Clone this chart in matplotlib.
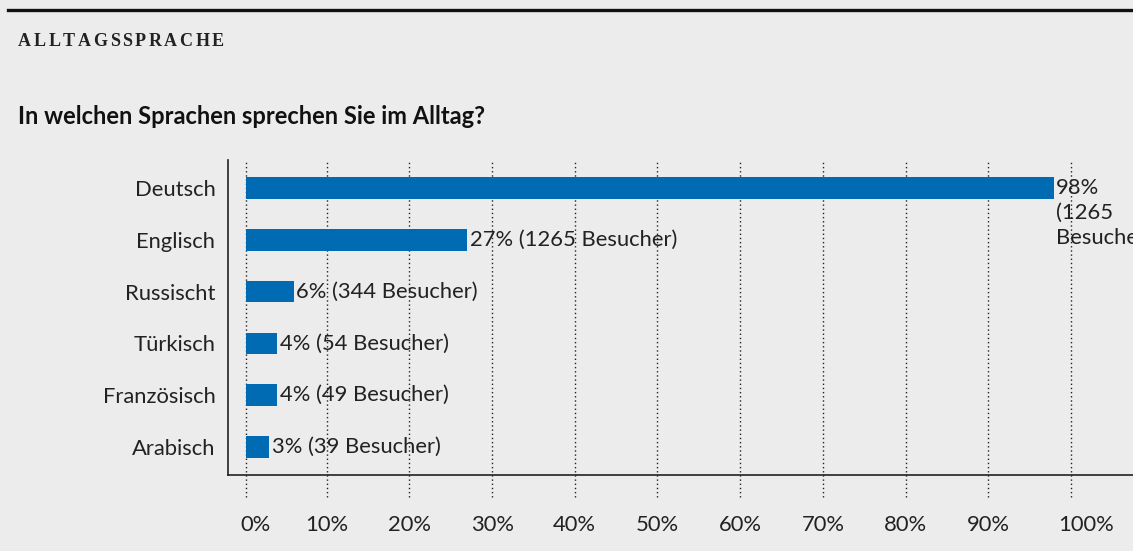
import matplotlib
matplotlib.use("Agg")
import matplotlib.pyplot as plt
import matplotlib.transforms as mtransforms

categories = ["Deutsch", "Englisch", "Russischt", "Türkisch", "Französisch", "Arabisch"]
values = [98, 27, 6, 4, 4, 3]
counts = [1265, 1265, 344, 54, 49, 39]
xticks = [0, 10, 20, 30, 40, 50, 60, 70, 80, 90, 100]
xticklabels = [f"{t}%" for t in xticks]
kicker = "ALLTAGSSPRACHE"
title = "In welchen Sprachen sprechen Sie im Alltag?"

BG = "#ececec"
BAR = "#006ab3"
FONT = ["Lato", "DejaVu Sans"]
FS = 15.8
BASE = 0.24  # visual baseline offset where bars start (0% rule)

fig = plt.figure(figsize=(11.33, 5.51), dpi=100, facecolor=BG)
W, H = 1133, 551

# top rule
fig.add_artist(plt.Line2D([8 / W, 1.0], [1 - 10 / H, 1 - 10 / H], color="#111111", lw=2.4))

# kicker with letter spacing
renderer = fig.canvas.get_renderer()
xpx = 18
for ch in kicker:
    t = fig.text(xpx / W, 1 - 41 / H, ch, family=["Liberation Serif"], fontweight="bold",
                 fontsize=13, va="center", ha="left", color="#222222")
    w = t.get_window_extent(renderer).width
    xpx += w + 2.6

fig.text(18 / W, 1 - 116 / H, title, family=FONT, fontweight="bold",
         fontsize=17, va="center", ha="left", color="#111111")

ax = fig.add_axes([228 / W, 1 - 475 / H, 1 - 228 / W, (475 - 160) / H])
ax.set_facecolor(BG)
ypos = list(range(len(categories)))
ax.barh(ypos, [v - BASE for v in values], left=BASE, height=0.42, color=BAR, zorder=3)

ax.set_xlim(-1.935, 107.5)
ax.set_ylim(5.54, -0.54)

for t in xticks:
    ax.axvline(t if t > 0 else BASE, ymin=-0.07, ymax=1.0, color="#222222", lw=1.0,
               ls=(0, (1, 2)), clip_on=False, zorder=1)

ax.set_xticks(xticks)
ax.set_xticklabels(xticklabels, family=FONT, fontsize=FS, color="#222222")
ax.set_yticks(ypos)
ax.set_yticklabels(categories, family=FONT, fontsize=FS, color="#222222")
ax.tick_params(axis="x", length=0, pad=29)
ax.tick_params(axis="y", length=0, pad=9)

labels = ax.get_xticklabels()
for lab, dx in ((labels[0], 11), (labels[-1], 15)):
    lab.set_transform(lab.get_transform() +
                      mtransforms.ScaledTranslation(dx / 100, 0, fig.dpi_scale_trans))

for s in ["top", "right"]:
    ax.spines[s].set_visible(False)
ax.spines["left"].set_color("#222222")
ax.spines["bottom"].set_color("#222222")
ax.spines["left"].set_linewidth(1.2)
ax.spines["bottom"].set_linewidth(1.2)

for i, (v, c) in enumerate(zip(values, counts)):
    if i == 0:
        ax.annotate(f"{v}%\n({c}\nBesucher)", xy=(v, i - 0.21), xytext=(1, -1),
                    textcoords="offset points", ha="left", va="top",
                    family=FONT, fontsize=FS, color="#222222", linespacing=1.3,
                    annotation_clip=False)
    else:
        ax.annotate(f"{v}% ({c} Besucher)", xy=(v, i), xytext=(2, 0),
                    textcoords="offset points", ha="left", va="center",
                    family=FONT, fontsize=FS, color="#222222")

fig.savefig("out.png", dpi=100, facecolor=BG)
